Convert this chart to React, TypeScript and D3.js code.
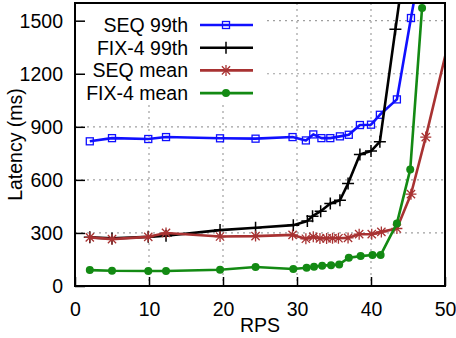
import * as React from 'react';
import { useEffect, useRef } from 'react';
import * as d3 from 'd3';

// Data (RPS vs latency in ms)
const seq99Rps = [2, 5, 9.9, 12.3, 19.6, 24.4, 29.4, 31.2, 32.2, 33.3, 34.5, 35.8, 37.0, 38.5, 40.0, 41.2, 43.5, 45.4, 46.2];
const seq99Val = [818, 836, 831, 842, 835, 833, 842, 823, 857, 836, 836, 846, 855, 910, 912, 968, 1055, 1515, 1700];

const fix99Rps = [2, 5, 9.9, 12.3, 19.6, 24.4, 29.5, 31.4, 32.1, 33.2, 34.5, 35.8, 36.9, 38.5, 40.0, 41.2, 43.3, 44.2];
const fix99Val = [275, 269, 278, 284, 316, 329, 344, 368, 395, 423, 466, 485, 579, 744, 763, 816, 1451, 1720];

const seqMeanRps = [2, 5, 9.9, 12.3, 19.6, 24.4, 29.4, 31.2, 32.2, 33.1, 34.0, 34.8, 35.6, 36.9, 38.4, 40.1, 41.4, 43.5, 45.4, 47.4, 51];
const seqMeanVal = [275, 265, 278, 300, 280, 282, 289, 267, 278, 269, 269, 270, 270, 272, 293, 293, 306, 325, 519, 842, 1470];

const fixMeanRps = [2, 5, 9.9, 12.3, 19.6, 24.4, 29.5, 31.3, 32.3, 33.4, 34.6, 35.7, 37.0, 38.6, 40.2, 41.3, 43.5, 45.3, 46.9];
const fixMeanVal = [90, 86, 85, 85, 92, 107, 96, 103, 109, 115, 118, 122, 160, 169, 175, 175, 354, 658, 1572];

const xTicks = [0, 10, 20, 30, 40, 50];
const yTicks = [0, 300, 600, 900, 1200, 1500];

type Marker = 'square' | 'plus' | 'star' | 'circle';

interface Series {
  name: string;
  color: string;
  marker: Marker;
  rps: number[];
  val: number[];
}

const series: Series[] = [
  { name: 'SEQ 99th', color: '#1010ff', marker: 'square', rps: seq99Rps, val: seq99Val },
  { name: 'FIX-4 99th', color: '#000000', marker: 'plus', rps: fix99Rps, val: fix99Val },
  { name: 'SEQ mean', color: '#a83232', marker: 'star', rps: seqMeanRps, val: seqMeanVal },
  { name: 'FIX-4 mean', color: '#138a13', marker: 'circle', rps: fixMeanRps, val: fixMeanVal },
];

const font = '"Liberation Sans", Arial, sans-serif';
const fontSize = 19.5;

function drawMarker(g: d3.Selection<SVGGElement, unknown, null, undefined>, kind: Marker, x: number, y: number, color: string) {
  if (kind === 'square') {
    g.append('rect')
      .attr('x', x - 3.5).attr('y', y - 3.5)
      .attr('width', 7).attr('height', 7)
      .attr('fill', 'none').attr('stroke', color).attr('stroke-width', 1.3);
  } else if (kind === 'plus') {
    g.append('path')
      .attr('d', `M${x - 6},${y}H${x + 6}M${x},${y - 6}V${y + 6}`)
      .attr('stroke', color).attr('stroke-width', 1.5);
  } else if (kind === 'star') {
    const r = 5.5;
    g.append('path')
      .attr('d', `M${x - r},${y}H${x + r}M${x},${y - r}V${y + r}M${x - r * 0.75},${y - r * 0.75}L${x + r * 0.75},${y + r * 0.75}M${x - r * 0.75},${y + r * 0.75}L${x + r * 0.75},${y - r * 0.75}`)
      .attr('stroke', color).attr('stroke-width', 1.3);
  } else {
    g.append('circle').attr('cx', x).attr('cy', y).attr('r', 4).attr('fill', color);
  }
}

const LatencyChart: React.FC = () => {
  const svgRef = useRef<SVGSVGElement>(null);
  const width = 456;
  const height = 338;

  useEffect(() => {
    const svg = d3.select(svgRef.current);
    svg.selectAll('*').remove();

    const margin = { top: 3, right: 11, bottom: 52, left: 75 };
    const w = width - margin.left - margin.right;
    const h = height - margin.top - margin.bottom;

    const x = d3.scaleLinear().domain([0, 50]).range([0, w]);
    const y = d3.scaleLinear().domain([0, 1600]).range([h, 0]);

    svg.append('defs').append('clipPath').attr('id', 'plot-clip')
      .append('rect').attr('width', w).attr('height', h);

    const g = svg.append('g').attr('transform', `translate(${margin.left},${margin.top})`);

    // grid
    const grid = g.append('g').attr('stroke', '#a0a0a0').attr('stroke-width', 1.2).attr('stroke-dasharray', '2,4');
    xTicks.slice(1, -1).forEach(t => {
      grid.append('line').attr('x1', x(t)).attr('x2', x(t)).attr('y1', 0).attr('y2', h);
    });
    yTicks.slice(1).forEach(t => {
      grid.append('line').attr('x1', 0).attr('x2', w).attr('y1', y(t)).attr('y2', y(t));
    });

    // opaque key background
    g.append('rect').attr('x', 1).attr('y', 1).attr('width', 187).attr('height', 100).attr('fill', '#fff');

    // axes
    const xAxis = g.append('g').attr('transform', `translate(0,${h})`)
      .call(d3.axisBottom(x).tickValues(xTicks).tickFormat(d3.format('d')).tickSize(-9).tickPadding(16));
    const yAxis = g.append('g')
      .call(d3.axisLeft(y).tickValues(yTicks).tickFormat(d3.format('d')).tickSize(-10).tickPadding(12));
    [xAxis, yAxis].forEach(a => {
      a.select('.domain').remove();
      a.selectAll('line').attr('stroke', '#000').attr('stroke-width', 1.5);
      a.selectAll('text').attr('font-family', font).attr('font-size', fontSize).attr('fill', '#000');
    });
    xAxis.selectAll('text').attr('dy', '0.71em');
    yAxis.selectAll('text').attr('dy', '0.35em');

    // series
    const plot = g.append('g').attr('clip-path', 'url(#plot-clip)');
    series.forEach(s => {
      const pts = s.rps.map((r, i) => [r, s.val[i]] as [number, number]);
      const line = d3.line<[number, number]>().x(d => x(d[0])).y(d => y(d[1]));
      plot.append('path').datum(pts)
        .attr('fill', 'none').attr('stroke', s.color).attr('stroke-width', 2.6)
        .attr('stroke-linejoin', 'round').attr('d', line);
      const mg = plot.append('g');
      pts.filter(d => d[0] <= 50 && d[1] <= 1600)
        .forEach(d => drawMarker(mg, s.marker, x(d[0]), y(d[1]), s.color));
    });

    // border
    g.append('rect').attr('width', w).attr('height', h)
      .attr('fill', 'none').attr('stroke', '#000').attr('stroke-width', 2);

    // legend
    series.forEach((s, i) => {
      const ly = 22 + i * 22.7;
      g.append('text').attr('x', 113).attr('y', ly).attr('dy', '0.35em')
        .attr('text-anchor', 'end').attr('font-family', font).attr('font-size', fontSize)
        .text(s.name);
      g.append('line').attr('x1', 125).attr('x2', 178).attr('y1', ly).attr('y2', ly)
        .attr('stroke', s.color).attr('stroke-width', 2.6);
      drawMarker(g, s.marker, 151, ly, s.color);
    });

    // axis labels
    svg.append('text').attr('x', margin.left + w / 2).attr('y', 332)
      .attr('text-anchor', 'middle').attr('font-family', font).attr('font-size', fontSize)
      .text('RPS');
    svg.append('text')
      .attr('transform', `translate(22,${margin.top + h / 2}) rotate(-90)`)
      .attr('text-anchor', 'middle').attr('font-family', font).attr('font-size', fontSize)
      .text('Latency (ms)');
  }, []);

  return (
    <svg ref={svgRef} width={width} height={height}
      style={{ position: 'absolute', left: 0, top: 0, background: '#fff' }} />
  );
};

export default function App() {
  return <LatencyChart />;
}
